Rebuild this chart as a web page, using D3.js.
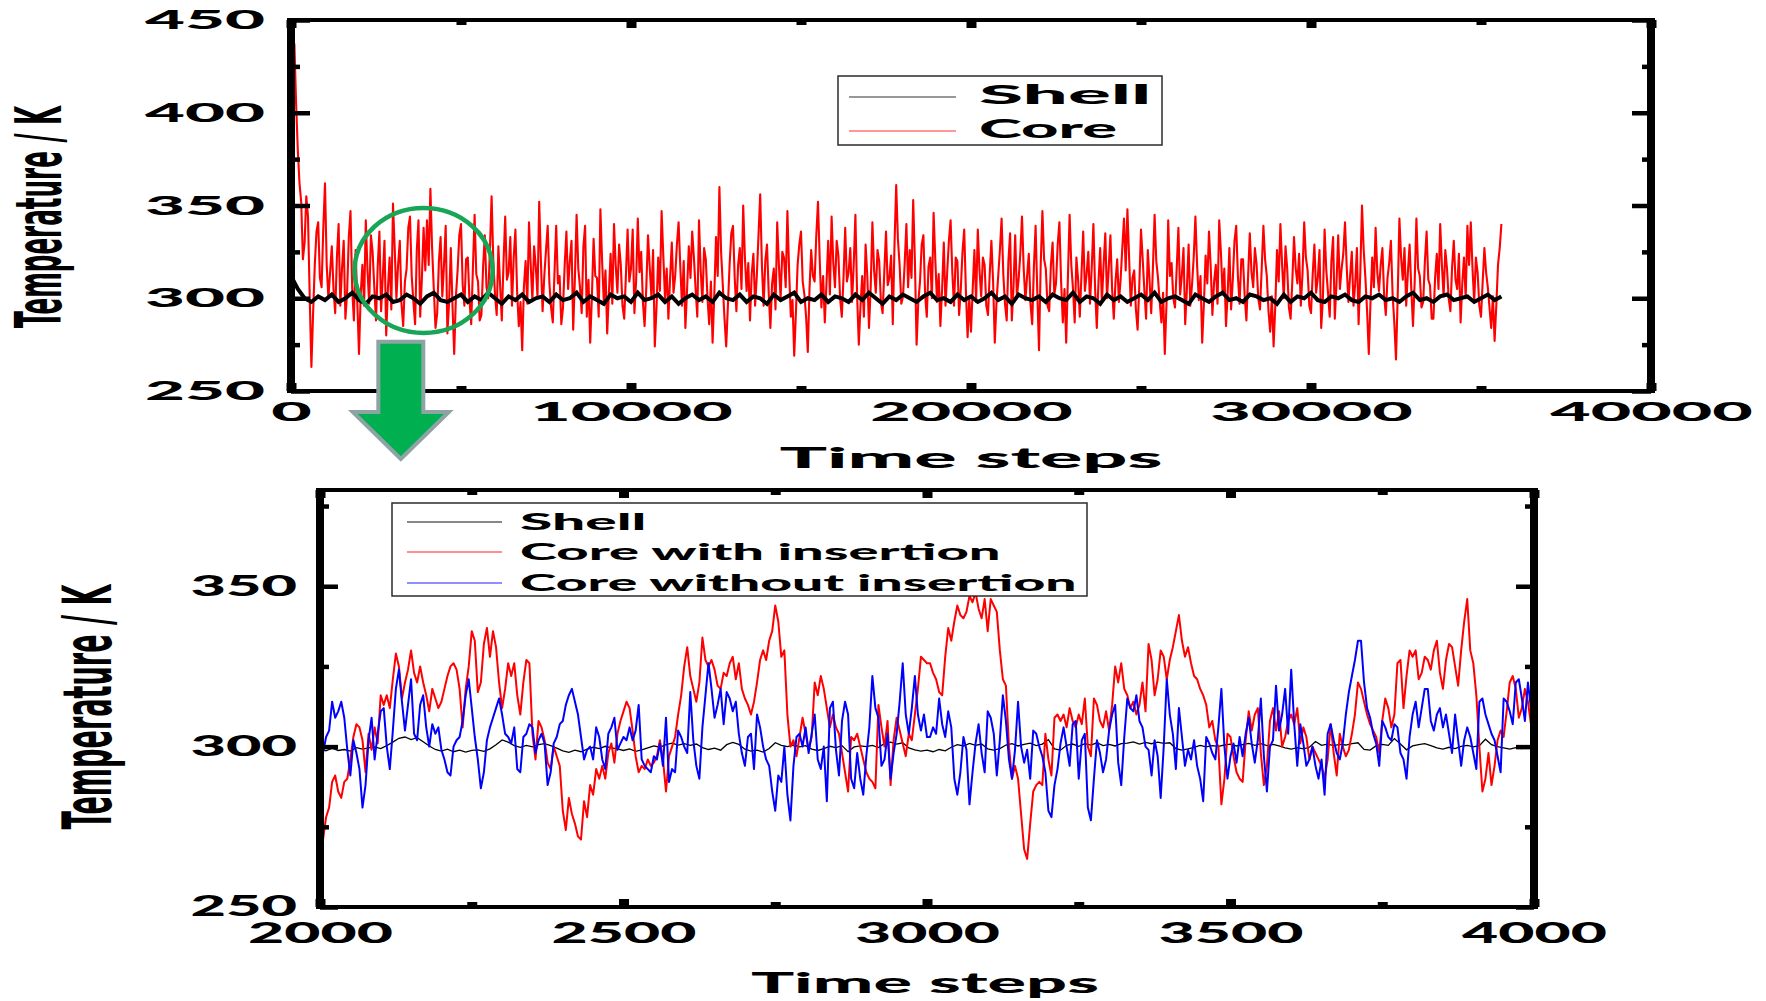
<!DOCTYPE html>
<html>
<head>
<meta charset="utf-8">
<script src="https://cdn.jsdelivr.net/npm/d3@7"></script>
<style>
  html, body { margin: 0; padding: 0; background: #fff; }
  svg { display: block; }
</style>
</head>
<body>
<script>
// ---------- data ----------
// Full run: core temperature sampled every 50 time steps, shell every 200, both from step 0
const runCoreStep = 50;
const runCore = [
  310,372,437,405,380,362,352,321,330,355,344,301,263,292,318,336,341,311,306,338,362,318,300,314,328,305,292,322,340,296,316,331,289,303,333,347,305,288,326,298,
  270,302,318,296,342,315,297,334,325,306,288,317,336,293,312,331,280,305,322,294,351,327,300,318,331,297,285,309,316,338,344,312,298,286,326,342,290,311,338,315,
  342,318,359,327,305,284,292,320,333,301,318,339,281,298,327,296,270,301,315,334,340,307,296,321,322,299,286,316,345,313,309,288,291,317,334,306,300,326,355,320,
  302,291,328,307,288,319,344,310,314,333,296,322,337,304,285,298,272,306,320,297,341,318,299,328,317,301,352,320,293,312,326,339,308,295,287,314,339,308,312,286,
  295,318,336,305,320,331,283,311,345,316,306,292,328,339,290,310,276,301,332,312,311,290,348,320,298,315,281,303,324,297,340,318,303,329,318,296,289,312,337,309,
  316,337,292,309,343,314,325,298,285,306,334,317,301,326,274,295,322,304,347,323,300,316,289,311,330,303,312,329,341,317,296,320,284,305,328,311,336,322,305,290,
  342,315,298,327,321,300,286,309,276,302,333,312,360,325,307,289,274,296,318,335,339,311,293,318,327,305,350,322,304,319,288,313,324,296,312,334,356,318,296,320,
  329,303,284,308,316,294,341,318,300,325,322,306,347,315,290,299,269,292,318,329,336,309,302,290,271,305,326,312,309,334,352,321,295,312,287,308,331,302,344,319,
  306,331,323,300,290,311,338,309,314,327,298,318,345,302,275,296,312,290,329,312,284,306,341,315,303,326,320,298,292,314,336,307,311,323,286,329,361,332,318,297,
  301,319,340,306,326,311,353,320,275,298,309,329,334,302,290,317,322,300,346,321,298,313,285,305,330,296,314,331,342,314,296,322,320,291,305,325,337,304,279,300,
  282,305,326,298,337,315,301,322,318,296,291,313,331,309,276,298,312,326,343,313,297,288,320,335,288,306,334,301,310,324,344,316,299,312,324,297,286,317,339,303,
  272,318,347,321,316,296,293,318,330,302,308,329,341,309,287,305,276,311,345,318,305,287,322,310,290,313,336,304,313,325,297,316,340,305,284,309,327,298,318,335,
  300,316,334,305,289,309,321,298,310,327,343,315,348,322,296,311,315,294,283,307,337,321,304,289,326,310,292,316,345,320,311,298,287,303,270,297,342,312,319,300,
  295,316,338,302,312,327,286,305,329,296,307,322,344,318,299,312,276,297,323,308,336,317,291,309,318,297,342,325,302,316,285,303,327,294,310,331,339,312,297,321,
  321,301,288,312,335,314,306,327,318,300,294,316,339,321,312,293,282,301,274,296,326,309,340,318,300,328,316,295,289,309,333,316,308,324,296,313,341,322,315,296,
  292,313,329,303,311,326,284,300,337,315,303,290,320,333,289,308,334,305,316,324,341,317,298,312,325,296,308,327,286,314,350,326,311,293,270,298,322,306,338,314,
  304,318,327,302,291,311,319,331,302,287,267,301,343,322,310,327,296,314,329,305,285,309,343,316,312,295,298,320,336,310,307,289,289,311,324,305,340,318,301,326,
  316,300,293,317,331,310,305,324,287,308,322,300,339,318,341,316,298,322,314,296,290,309,327,314,306,295,284,301,277,296,318,327,340
];
const runShellStep = 200;
const runShell = [
  312,305,300,298,301,299,302,298,300,303,299,297,301,300,302,298,299,302,300,297,
  301,303,299,298,300,302,298,301,299,303,300,297,301,299,302,298,300,301,298,302,
  299,300,303,298,301,299,297,302,300,301,298,303,299,300,302,298,301,297,300,302,
  299,301,298,303,300,299,302,298,301,300,297,302,299,301,303,298,300,299,302,298,
  301,300,298,302,299,303,300,297,301,299,302,300,298,301,303,299,300,298,302,299,
  301,298,300,303,299,301,297,302,300,299,301,298,302,300,299,303,298,301,300,297,
  302,299,301,298,300,302,299,303,298,300,301,299,297,302,300,298,301,303,299,300,
  298,302,301,299,300,297,302,298,301,300,303,299,298,301,300,302,299,298,301,300,
  302,299,300,298,301,303,299,300,298,301,302,299,300,301,298,300,302,299,301
];

// Detail window, time steps 2000 to 4000
const detailStart = 2000;
const detailShellStep = 10;
const detailShell = [
  299.4,298.7,299.5,298.8,299.1,298.6,299.7,299.2,299.6,299.9,
  299.4,300.3,301.4,302.6,303.0,302.2,302.8,301.5,300.2,299.1,
  298.6,299.2,298.4,298.9,298.3,298.8,299.0,298.5,299.3,300.6,
  302.1,301.4,300.3,299.8,300.4,299.9,300.6,300.9,300.3,299.5,
  298.7,298.2,298.9,298.4,299.2,299.8,299.4,300.1,299.6,299.3,
  298.8,299.3,298.5,299.0,299.6,300.2,299.8,300.6,301.1,300.5,
  300.9,300.4,300.8,299.7,299.1,299.5,298.9,300.6,301.3,300.7,
  299.2,298.6,298.9,298.3,299.4,301.2,300.4,300.0,300.5,299.9,
  300.3,299.2,298.8,299.4,300.1,299.7,300.3,298.4,299.9,300.2,
  300.0,300.4,299.7,301.0,301.4,300.8,301.2,299.6,299.0,298.6,
  298.9,298.4,299.1,298.7,299.8,300.6,300.2,301.0,300.4,300.8,
  299.3,298.9,299.4,300.5,300.9,300.2,300.7,301.1,300.3,300.8,
  302.2,299.3,298.9,300.4,300.8,300.1,300.9,300.5,301.2,300.3,
  300.7,300.2,300.9,301.1,301.5,300.8,301.3,300.9,301.4,301.0,
  301.2,299.4,298.9,299.3,299.8,300.4,299.9,300.3,300.1,300.5,
  300.8,300.2,300.6,301.0,300.4,300.9,300.3,300.7,300.2,299.6,
  299.2,299.7,299.3,299.8,301.6,300.4,300.8,300.3,300.7,300.5,
  300.9,301.2,299.1,298.9,300.3,300.7,300.4,302.5,300.8,299.0,
  300.2,300.6,300.9,300.3,299.6,299.2,299.8,299.4,300.1,300.4,
  299.9,300.3,302.3,300.6,300.0,299.6,299.2,299.7,299.4,299.8,
  299.6
];
const detailCoreStep = 5;
const detailCoreWith = [
  282,271,278,281,289,291,286,284,289,290,
  296,303,307,306,302,292,304,299,306,301,
  316,313,316,312,321,329,325,315,320,324,
  330,323,320,325,320,316,311,318,315,312,
  314,318,322,325,326,324,318,306,318,325,
  336,333,317,320,332,337,328,336,331,320,
  312,318,326,322,326,316,310,320,327,326,
  304,296,308,306,302,295,293,300,297,294,
  280,274,284,279,276,272,271,283,278,288,
  285,293,290,294,290,298,301,295,304,308,
  311,314,
  312,305,297,292,294,293,296,294,295,297,
  302,296,286,297,300,303,310,316,325,331,
  322,318,314,320,334,327,325,327,324,319,
  318,323,322,326,328,321,326,318,315,313,
  310,314,320,327,330,327,333,336,344,339,
  328,330,310,300,302,297,303,309,304,299,
  303,320,316,322,318,312,306,310,306,304,
  298,292,286,303,302,304,300,296,292,290,
  289,287,313,306,300,308,288,302,309,305,
  301,297,304,302,310,318,328,327,326,
  326,323,321,317,316,328,337,333,339,344,
  341,340,342,347,345,348,343,340,346,336,
  346,344,342,330,321,319,300,290,294,290,
  279,268,265,276,286,288,289,288,304,296,
  291,309,310,308,310,306,312,308,306,310,
  307,315,300,297,315,313,308,306,311,305,
  313,325,320,326,318,316,312,314,310,313,
  320,311,332,327,316,321,330,328,321,327,
  331,336,341,333,328,331,326,322,321,318,
  316,313,306,308,302,300,282,290,304,
  303,297,292,290,289,302,311,305,310,312,
  298,288,294,308,312,305,311,300,303,308,
  310,307,312,301,306,303,296,300,298,296,
  294,290,296,307,298,291,304,300,297,299,
  304,310,320,318,314,310,307,305,303,298,
  308,315,312,306,310,326,327,312,322,330,
  328,330,321,323,328,327,324,330,333,323,
  318,327,332,331,325,319,330,339,346,330,
  326,316,300,286,290,298,288,294,302,305,
  303,311,320,322,318,309,312,318,314,307,
  305
];
const detailCoreWithout = [
  306,298,303,305,314,309,311,314,309,299,
  291,302,298,293,281,288,302,309,296,304,
  311,312,300,293,305,318,324,314,305,313,
  321,304,302,313,316,306,300,307,304,306,
  299,296,292,291,300,302,303,308,316,321,
  312,303,296,287,292,302,306,309,312,315,
  310,304,303,301,306,293,292,303,304,307,
  306,298,302,304,301,288,292,301,303,307,
  308,313,316,318,314,310,303,296,299,300,
  296,306,303,296,293,304,306,309,299,301,
  303,302,
  306,302,305,313,296,294,293,292,297,296,
  301,294,309,289,293,292,305,303,300,298,
  317,302,294,290,306,316,326,318,309,313,
  318,307,317,315,311,314,304,298,294,303,
  304,293,310,306,300,296,294,286,280,291,
  289,300,285,277,294,303,304,300,306,298,
  304,310,296,293,300,283,312,314,299,291,
  308,314,310,290,287,298,290,285,297,306,
  322,312,309,294,296,304,290,298,304,314,
  326,310,304,312,322,310,305,310,303,
  303,306,304,315,307,303,311,306,290,285,
  292,303,299,282,292,301,307,298,292,311,
  309,304,291,302,316,308,296,290,299,314,
  300,295,299,290,305,304,300,297,292,280,
  278,288,293,301,306,300,294,307,308,290,
  302,304,281,277,290,302,298,292,296,305,
  310,313,295,288,303,315,312,311,316,308,
  306,300,299,291,302,297,284,300,321,310,
  304,293,312,303,294,299,296,302,294,290,
  283,303,301,298,296,306,318,300,290,
  297,301,295,303,297,304,309,301,295,302,
  315,297,286,300,302,319,305,310,318,304,
  324,307,294,307,301,294,296,300,294,290,
  296,285,304,307,302,298,296,301,310,317,
  322,327,333,333,320,312,309,304,301,294,
  308,306,303,302,307,306,298,296,290,303,
  310,314,306,312,318,318,308,305,310,312,
  306,310,304,298,310,302,294,302,306,303,
  298,293,314,315,310,307,304,302,297,292,
  315,314,311,307,320,321,315,308,320,312,
  305
];

// Axis ticks and legend labels
const runXTicks = [0, 10000, 20000, 30000, 40000];
const runXMinor = [5000, 15000, 25000, 35000];
const runYTicks = [250, 300, 350, 400, 450];
const runYMinor = [275, 325, 375, 425];
const detailXTicks = [2000, 2500, 3000, 3500, 4000];
const detailXMinor = [2250, 2750, 3250, 3750];
const detailYTicks = [250, 300, 350];
const detailYMinor = [275, 325, 375];
const runLegend = ["Shell", "Core"];
const detailLegend = ["Shell", "Core with insertion", "Core without insertion"];
const xTitle = "Time steps";
const yTitle = "Temperature / K";

// ---------- drawing ----------
const HEAVY = "Lato, 'DejaVu Sans', 'Liberation Sans', sans-serif";
const PLAIN = "'DejaVu Sans', 'Liberation Sans', sans-serif";
const svg = d3.select("body").append("svg")
  .attr("width", 1766).attr("height", 1001)
  .style("font-family", HEAVY).style("font-weight", 900);

const toPoints = (vals, start, step) => vals.map((v, i) => ({ t: start + i * step, v }));

// widen a text element horizontally so that it spans `width` pixels
function widen(node, width) {
  return width / node.getComputedTextLength();
}

function addTicks(g, x, y, o) {
  const [x0, x1] = x.range();
  const [yb, yt] = y.range();
  const add = (axis, tx, ty, w) => {
    const a = g.append("g").attr("transform", `translate(${tx},${ty})`).call(axis);
    a.select(".domain").remove();
    a.selectAll(".tick text").remove();
    a.selectAll(".tick line").attr("stroke", "#000").attr("stroke-width", w);
  };
  add(d3.axisTop(x).tickValues(o.xMajor).tickSize(o.xLen[0]), 0, yb, o.xW);
  add(d3.axisTop(x).tickValues(o.xMinor).tickSize(o.xLen[1]), 0, yb, o.xW);
  add(d3.axisBottom(x).tickValues(o.xMajor).tickSize(o.xLen[0]), 0, yt, o.xW);
  add(d3.axisBottom(x).tickValues(o.xMinor).tickSize(o.xLen[1]), 0, yt, o.xW);
  add(d3.axisRight(y).tickValues(o.yMajor).tickSize(o.yLen[0]), x0, 0, o.yW);
  add(d3.axisRight(y).tickValues(o.yMinor).tickSize(o.yLen[1]), x0, 0, o.yW);
  add(d3.axisLeft(y).tickValues(o.yMajor).tickSize(o.yLen[0]), x1, 0, o.yW);
  add(d3.axisLeft(y).tickValues(o.yMinor).tickSize(o.yLen[1]), x1, 0, o.yW);
}

function addFrame(g, x, y, vW, hW) {
  const [x0, x1] = x.range();
  const [yb, yt] = y.range();
  const ln = (a, b, c, d, w) => g.append("line").attr("x1", a).attr("y1", b).attr("x2", c).attr("y2", d)
    .attr("stroke", "#000").attr("stroke-width", w);
  ln(x0 - vW / 2, yt, x1 + vW / 2, yt, hW);
  ln(x0 - vW / 2, yb, x1 + vW / 2, yb, hW);
  ln(x0, yt - hW / 2, x0, yb + hW / 2, vW);
  ln(x1, yt - hW / 2, x1, yb + hW / 2, vW);
}

function addTickLabels(g, x, y, o) {
  const [x0] = x.range();
  const [yb] = y.range();
  const xl = g.append("g").attr("transform", `translate(0,${yb})`)
    .call(d3.axisBottom(x).tickValues(o.xMajor).tickSize(0).tickPadding(o.xPad).tickFormat(d3.format("d")));
  xl.select(".domain").remove();
  xl.attr("font-size", null).attr("font-family", null);
  xl.selectAll("text").style("font-size", o.size + "px").attr("fill", "#000")
    .each(function () {
      const s = widen(this, this.textContent.length * o.xChar);
      d3.select(this).attr("transform", `scale(${s},1)`);
    });
  const yl = g.append("g").attr("transform", `translate(${x0},0)`)
    .call(d3.axisLeft(y).tickValues(o.yMajor).tickSize(0).tickFormat(d3.format("d")));
  yl.select(".domain").remove();
  yl.attr("font-size", null).attr("font-family", null);
  yl.selectAll("text").style("font-size", o.size + "px").attr("fill", "#000")
    .each(function () {
      const s = widen(this, this.textContent.length * o.yChar);
      d3.select(this).attr("x", -o.yGap / s).attr("y", o.yShift).attr("transform", `scale(${s},1)`);
    });
}

function addTitles(g, x, y, o) {
  const [x0, x1] = x.range();
  const xt = g.append("text").attr("text-anchor", "middle").style("font-size", o.size + "px").text(xTitle);
  const sx = widen(xt.node(), o.xWidth);
  xt.attr("transform", `translate(${(x0 + x1) / 2 + o.xOff},${o.xBase}) scale(${sx},1)`);
  const yt = g.append("text").attr("text-anchor", "middle")
    .style("font-family", PLAIN).style("font-weight", "bold")
    .style("font-size", o.ySize + "px").text(yTitle);
  const along = widen(yt.node(), o.yLength);
  yt.attr("transform", `translate(${o.yBase},${o.yMid}) scale(${o.yAcross},1) rotate(-90) scale(${along},1)`);
}

function addLegend(g, names, colors, o) {
  g.append("rect").attr("x", o.x).attr("y", o.y).attr("width", o.w).attr("height", o.h)
    .attr("fill", "#fff").attr("stroke", "#2b2b2b").attr("stroke-width", 1.5);
  names.forEach((name, i) => {
    const cy = o.rowY[i];
    g.append("line").attr("x1", o.lineX[0]).attr("x2", o.lineX[1]).attr("y1", cy).attr("y2", cy)
      .attr("stroke", colors[i]).attr("stroke-width", 1.1);
    const t = g.append("text").style("font-size", o.size + "px").attr("fill", "#000").text(name);
    const s = widen(t.node(), name.length * o.charW);
    t.attr("transform", `translate(${o.textX},${cy + o.baseOff}) scale(${s},1)`);
  });
}

// ===== full run panel =====
const runX = d3.scaleLinear().domain([0, 40000]).range([291, 1651]);
const runY = d3.scaleLinear().domain([250, 450]).range([391, 20]);
const gRun = svg.append("g");
gRun.append("clipPath").attr("id", "clipRun").append("rect")
  .attr("x", 291).attr("y", 20).attr("width", 1360).attr("height", 371);
const runLine = d3.line().x(d => runX(d.t)).y(d => runY(d.v));
const runPlot = gRun.append("g").attr("clip-path", "url(#clipRun)");
runPlot.append("path").datum(toPoints(runCore, 0, runCoreStep))
  .attr("d", runLine).attr("fill", "none").attr("stroke", "#ff0000").attr("stroke-width", 2.1)
  .attr("stroke-linejoin", "round");
runPlot.append("path").datum(toPoints(runShell, 0, runShellStep))
  .attr("d", runLine).attr("fill", "none").attr("stroke", "#000").attr("stroke-width", 4);

addTicks(gRun, runX, runY, { xMajor: runXTicks, xMinor: runXMinor, yMajor: runYTicks, yMinor: runYMinor,
  xLen: [8, 5], yLen: [19, 9], xW: 10, yW: 4.5 });
addFrame(gRun, runX, runY, 8, 4);
addTickLabels(gRun, runX, runY, { xMajor: runXTicks, yMajor: runYTicks, size: 27, xChar: 40.5, yChar: 40,
  xPad: 11, yGap: 26, yShift: 0 });
addTitles(gRun, runX, runY, { size: 28, xWidth: 383, xOff: 0, xBase: 468, ySize: 28, yLength: 222,
  yAcross: 2.3, yBase: 61, yMid: 217 });
addLegend(gRun, runLegend, ["#333", "#ff3030"], { x: 838, y: 76, w: 324, h: 69, rowY: [97, 131],
  lineX: [849, 956], textX: 979, size: 27, charW: 34.5, baseOff: 7 });

// highlighted window and arrow pointing to the detail panel
gRun.append("ellipse").attr("cx", runX(3900)).attr("cy", runY(315)).attr("rx", 69).attr("ry", 62.5)
  .attr("fill", "none").attr("stroke", "#18a656").attr("stroke-width", 4.5);
const ax = runX(3230), aTop = runY(276.5), aHead = runY(250) + 21, aTip = aHead + 47;
gRun.append("polygon")
  .attr("points", [[ax - 22.5, aTop], [ax + 22.5, aTop], [ax + 22.5, aHead], [ax + 48, aHead], [ax, aTip],
    [ax - 48, aHead], [ax - 22.5, aHead]].map(p => p.join(",")).join(" "))
  .attr("fill", "#00b050").attr("stroke", "#8ea4a4").attr("stroke-width", 4).attr("stroke-linejoin", "miter");

// ===== detail panel =====
const detX = d3.scaleLinear().domain([2000, 4000]).range([320, 1534]);
const detY = d3.scaleLinear().domain([250, 380]).range([907, 490]);
const gDet = svg.append("g");
gDet.append("clipPath").attr("id", "clipDet").append("rect")
  .attr("x", 320).attr("y", 490).attr("width", 1214).attr("height", 417);
const detLine = d3.line().x(d => detX(d.t)).y(d => detY(d.v));
const detPlot = gDet.append("g").attr("clip-path", "url(#clipDet)");
detPlot.append("path").datum(toPoints(detailShell, detailStart, detailShellStep))
  .attr("d", detLine).attr("fill", "none").attr("stroke", "#000").attr("stroke-width", 1.3);
detPlot.append("path").datum(toPoints(detailCoreWith, detailStart, detailCoreStep))
  .attr("d", detLine).attr("fill", "none").attr("stroke", "#ff0000").attr("stroke-width", 2)
  .attr("stroke-linejoin", "round");
detPlot.append("path").datum(toPoints(detailCoreWithout, detailStart, detailCoreStep))
  .attr("d", detLine).attr("fill", "none").attr("stroke", "#0000ff").attr("stroke-width", 2)
  .attr("stroke-linejoin", "round");

addLegend(gDet, detailLegend, ["#111", "#ff2020", "#2020ff"], { x: 392, y: 503, w: 695, h: 93,
  rowY: [522, 552, 583], lineX: [407, 502], textX: 520, size: 23.5, charW: 25.3, baseOff: 8 });
addTicks(gDet, detX, detY, { xMajor: detailXTicks, xMinor: detailXMinor, yMajor: detailYTicks, yMinor: detailYMinor,
  xLen: [8, 5], yLen: [18, 9], xW: 10, yW: 4.5 });
addFrame(gDet, detX, detY, 8, 4);
addTickLabels(gDet, detX, detY, { xMajor: detailXTicks, yMajor: detailYTicks, size: 28, xChar: 36.2, yChar: 35.5,
  xPad: 16, yGap: 23, yShift: 0 });
addTitles(gDet, detX, detY, { size: 28, xWidth: 348, xOff: -2, xBase: 993, ySize: 28, yLength: 245,
  yAcross: 2.4, yBase: 111, yMid: 707 });
</script>
</body>
</html>
